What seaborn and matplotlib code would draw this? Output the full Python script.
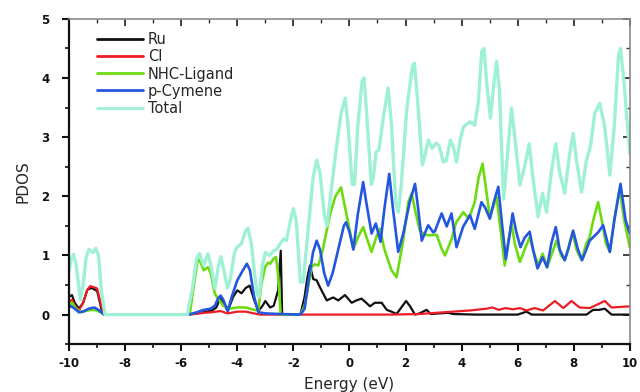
import matplotlib
matplotlib.use("Agg")
import matplotlib.pyplot as plt
import seaborn as sns
import pandas as pd
from matplotlib.ticker import MultipleLocator

# ---------------- data ----------------
series_names = ["Ru", "Cl", "NHC-Ligand", "p-Cymene", "Total"]

ru_e = [-10.0, -9.9, -9.8, -9.65, -9.5, -9.35, -9.2, -9.0, -8.85, -8.75, -5.76, -5.3, -4.9, -4.75,
        -4.62, -4.5, -4.34, -4.15, -4.0, -3.85, -3.7, -3.56, -3.4, -3.25, -3.1, -3.0, -2.83, -2.7,
        -2.55, -2.45, -2.4, -1.75, -1.6, -1.5, -1.41, -1.29, -1.17, -1.05, -0.81, -0.58, -0.4,
        -0.16, 0.08, 0.25, 0.43, 0.6, 0.73, 0.91, 1.15, 1.33, 1.5, 1.68, 1.85, 2.02, 2.15, 2.34,
        2.5, 2.75, 2.9, 3.2, 3.52, 3.7, 4.5, 6.0, 6.32, 6.5, 8.46, 8.69, 8.9, 9.11, 9.35, 10.0]
ru_v = [0.3, 0.33, 0.2, 0.1, 0.2, 0.42, 0.45, 0.4, 0.1, 0.0, 0.0, 0.03, 0.07, 0.12,
        0.27, 0.2, 0.06, 0.3, 0.41, 0.36, 0.45, 0.49, 0.25, 0.06, 0.15, 0.23, 0.12, 0.15,
        0.4, 1.08, 0.0, 0.0, 0.3, 0.63, 0.83, 0.6, 0.58, 0.46, 0.24, 0.29, 0.24,
        0.33, 0.2, 0.24, 0.27, 0.2, 0.14, 0.2, 0.2, 0.08, 0.05, 0.01, 0.12, 0.23, 0.15, 0.0,
        0.02, 0.08, 0.01, 0.02, 0.03, 0.01, 0.0, 0.0, 0.05, 0.0, 0.0, 0.08, 0.08, 0.1, 0.0, 0.0]

cl_e = [-10.0, -9.9, -9.8, -9.65, -9.5, -9.35, -9.25, -9.1, -9.0, -8.85, -8.75, -5.7, -5.2, -4.9,
        -4.6, -4.35, -4.0, -3.7, -3.4, -3.2, 1.5, 2.5, 3.1, 3.7, 4.3, 4.89, 5.1, 5.33, 5.56,
        5.84, 6.08, 6.32, 6.6, 6.91, 7.33, 7.63, 7.92, 8.21, 8.57, 9.11, 9.35, 10.0]
cl_v = [0.22, 0.25, 0.15, 0.07, 0.2, 0.42, 0.48, 0.46, 0.44, 0.15, 0.0, 0.0, 0.03, 0.04,
        0.06, 0.02, 0.05, 0.05, 0.02, 0.0, 0.0, 0.01, 0.03, 0.05, 0.07, 0.1, 0.12, 0.08, 0.11,
        0.09, 0.11, 0.07, 0.11, 0.07, 0.23, 0.11, 0.23, 0.12, 0.11, 0.23, 0.12, 0.14]

nhc_e = [-10.0, -9.9, -9.75, -9.6, -9.45, -9.2, -9.0, -8.85, -8.75, -5.7, -5.55, -5.42, -5.35,
         -5.2, -5.05, -4.95, -4.8, -4.65, -4.5, -4.3, -4.0, -3.7, -3.4, -3.25, -3.15, -3.01,
         -2.9, -2.83, -2.7, -2.62, -2.55, -2.45, -1.75, -1.6, -1.5, -1.35, -1.25, -1.11, -0.95,
         -0.7, -0.5, -0.3, -0.15, 0.14, 0.3, 0.49, 0.65, 0.79, 0.95, 1.09, 1.25, 1.5, 1.68,
         1.9, 2.1, 2.22, 2.35, 2.51, 2.7, 2.87, 3.11, 3.3, 3.41, 3.64, 3.8, 3.94, 4.06, 4.2,
         4.3, 4.47, 4.6, 4.75, 4.85, 5.01, 5.15, 5.25, 5.4, 5.54, 5.65, 5.78, 5.9, 6.08, 6.25,
         6.43, 6.55, 6.73, 6.89, 7.05, 7.2, 7.39, 7.55, 7.68, 7.8, 7.96, 8.1, 8.28, 8.45, 8.57,
         8.7, 8.87, 9.0, 9.15, 9.29, 9.45, 9.64, 9.8, 10.0]
nhc_v = [0.18, 0.2, 0.1, 0.04, 0.06, 0.08, 0.07, 0.03, 0.0, 0.0, 0.5, 0.9, 0.93,
         0.75, 0.8, 0.7, 0.35, 0.25, 0.15, 0.1, 0.12, 0.12, 0.08, 0.07, 0.5, 0.8,
         0.88, 0.86, 0.95, 0.97, 0.7, 0.0, 0.0, 0.15, 0.4, 0.8, 0.85, 0.83, 1.1,
         1.68, 2.0, 2.15, 1.8, 1.11, 1.3, 1.48, 1.25, 1.06, 1.3, 1.45, 1.1, 0.75, 0.63,
         1.2, 1.9, 2.05, 1.75, 1.42, 1.35, 1.34, 1.35, 1.1, 1.0, 1.27, 1.55, 1.65, 1.73, 1.65,
         1.68, 1.9, 2.3, 2.55, 2.2, 1.65, 1.85, 1.99, 1.4, 0.83, 1.2, 1.54, 1.2, 0.89, 1.1,
         1.31, 1.1, 0.83, 1.03, 0.8, 1.0, 1.25, 1.0, 0.92, 1.1, 1.39, 1.1, 0.92, 1.2, 1.31,
         1.6, 1.9, 1.6, 1.2, 1.06, 1.6, 2.13, 1.6, 1.14]

cym_e = [-10.0, -9.95, -9.8, -9.65, -9.5, -9.3, -9.1, -8.95, -8.75, -5.76, -5.5, -5.2, -4.95,
         -4.8, -4.68, -4.59, -4.5, -4.34, -4.2, -4.0, -3.8, -3.66, -3.55, -3.4, -3.25, -3.0,
         -2.5, -1.75, -1.6, -1.45, -1.3, -1.17, -1.05, -0.9, -0.76, -0.6, -0.4, -0.2, -0.12,
         0.0, 0.14, 0.3, 0.49, 0.6, 0.79, 0.94, 1.11, 1.25, 1.42, 1.55, 1.74, 1.92, 2.15, 2.34,
         2.45, 2.58, 2.81, 2.99, 3.05, 3.29, 3.47, 3.64, 3.82, 4.06, 4.3, 4.47, 4.71, 4.85,
         5.01, 5.15, 5.31, 5.45, 5.58, 5.7, 5.82, 5.95, 6.1, 6.25, 6.43, 6.55, 6.71, 6.89,
         7.05, 7.2, 7.36, 7.5, 7.68, 7.8, 7.98, 8.15, 8.3, 8.45, 8.57, 8.87, 9.05, 9.29, 9.45,
         9.67, 9.85, 10.0]
cym_v = [0.12, 0.15, 0.1, 0.04, 0.05, 0.1, 0.12, 0.08, 0.0, 0.0, 0.03, 0.08, 0.1,
         0.15, 0.28, 0.32, 0.25, 0.06, 0.3, 0.58, 0.75, 0.86, 0.75, 0.3, 0.04, 0.02,
         0.01, 0.0, 0.1, 0.6, 1.05, 1.25, 1.1, 0.7, 0.49, 0.7, 1.1, 1.5, 1.56,
         1.4, 1.1, 1.7, 2.24, 1.9, 1.37, 1.54, 1.23, 1.8, 2.38, 1.8, 1.06, 1.37, 1.9, 2.21,
         1.8, 1.25, 1.51, 1.39, 1.41, 1.71, 1.49, 1.71, 1.14, 1.49, 1.68, 1.45, 1.9, 1.8,
         1.62, 1.9, 2.16, 1.5, 0.94, 1.3, 1.71, 1.4, 1.14, 1.3, 1.4, 1.1, 0.78, 0.97,
         0.8, 1.2, 1.48, 1.1, 0.92, 1.1, 1.42, 1.1, 0.92, 1.1, 1.25, 1.39, 1.51, 1.06, 1.6,
         2.21, 1.6, 1.37]

tot_e = [-10.0, -9.92, -9.85, -9.75, -9.6, -9.5, -9.4, -9.3, -9.2, -9.15, -9.05, -8.95, -8.85,
         -8.72, -5.78, -5.6, -5.45, -5.35, -5.2, -5.05, -4.95, -4.8, -4.68, -4.59, -4.5, -4.35,
         -4.25, -4.1, -4.0, -3.85, -3.7, -3.62, -3.5, -3.3, -3.22, -3.1, -3.0, -2.85, -2.7,
         -2.6, -2.47, -2.35, -2.25, -2.1, -2.0, -1.9, -1.75, -1.65, -1.5, -1.3, -1.17, -1.05,
         -0.9, -0.8, -0.65, -0.5, -0.3, -0.15, -0.05, 0.1, 0.18, 0.3, 0.45, 0.52, 0.6, 0.78,
         0.85, 0.95, 1.05, 1.2, 1.38, 1.5, 1.65, 1.74, 1.85, 2.05, 2.25, 2.32, 2.45, 2.6, 2.7,
         2.81, 2.95, 3.1, 3.2, 3.35, 3.45, 3.6, 3.7, 3.82, 3.95, 4.06, 4.3, 4.47, 4.6, 4.72,
         4.8, 4.9, 5.03, 5.15, 5.25, 5.35, 5.5, 5.6, 5.78, 5.9, 6.08, 6.25, 6.41, 6.55, 6.73,
         6.89, 7.03, 7.2, 7.36, 7.5, 7.68, 7.85, 7.98, 8.1, 8.28, 8.45, 8.6, 8.75, 8.93, 9.1,
         9.29, 9.45, 9.6, 9.67, 9.8, 10.0]
tot_v = [0.75, 0.95, 1.02, 0.85, 0.25, 0.5, 0.95, 1.1, 1.07, 1.05, 1.12, 1.0, 0.4,
         0.0, 0.0, 0.45, 0.95, 1.03, 0.83, 1.03, 0.85, 0.44, 0.8, 0.98, 0.8, 0.45,
         0.6, 1.05, 1.14, 1.2, 1.42, 1.46, 1.2, 0.35, 0.3, 0.85, 1.05, 1.0, 1.08,
         1.1, 1.2, 1.28, 1.25, 1.6, 1.79, 1.6, 0.55, 0.55, 1.3, 2.3, 2.61, 2.4,
         1.7, 1.5, 2.1, 2.7, 3.4, 3.66, 3.2, 2.2, 2.2, 3.2, 3.95, 4.0, 3.5, 2.2,
         2.3, 2.75, 2.78, 3.3, 3.83, 3.2, 1.9, 1.73, 2.2, 3.5, 4.2, 4.25, 3.5, 2.53, 2.7,
         2.95, 2.81, 2.9, 2.85, 2.58, 2.6, 2.95, 2.85, 2.58, 2.95, 3.17, 3.26, 3.2, 3.6, 4.45,
         4.5, 3.9, 3.32, 3.9, 4.28, 3.8, 1.95, 2.5, 3.49, 3.0, 2.19, 2.5, 2.89, 2.3, 1.65,
         2.05, 1.73, 2.4, 2.89, 2.4, 2.05, 2.7, 3.06, 2.6, 2.07, 2.6, 2.85, 3.4, 3.57, 3.2,
         2.36, 3.2, 4.4, 4.5, 3.9, 2.72]

x_ticks = [-10, -8, -6, -4, -2, 0, 2, 4, 6, 8, 10]
y_ticks = [0, 1, 2, 3, 4, 5]

# ---------------- plotting ----------------
sns.set_theme(style="white")
plt.rcParams["font.family"] = ["DejaVu Sans"]
plt.rcParams["axes.unicode_minus"] = False

fig = plt.figure(figsize=(6.4, 3.92), dpi=100)
ax = fig.add_axes([0.108, 0.122, 0.876, 0.830])

series = [
    ("Ru", ru_e, ru_v, "#111111", 1.6),
    ("Cl", cl_e, cl_v, "#ee1c24", 1.6),
    ("NHC-Ligand", nhc_e, nhc_v, "#6cdb10", 1.9),
    ("p-Cymene", cym_e, cym_v, "#2457e0", 1.9),
    ("Total", tot_e, tot_v, "#9ff1d6", 2.4),
]
for name, e, v, col, lw in series:
    df = pd.DataFrame({"Energy": e, "PDOS": v})
    sns.lineplot(data=df, x="Energy", y="PDOS", ax=ax, color=col, lw=lw,
                 label=name, estimator=None, sort=False)

ax.set_xlim(-10, 10)
ax.set_ylim(-0.5, 5)
ax.set_xticks(x_ticks)
ax.set_yticks(y_ticks)
ax.xaxis.set_minor_locator(MultipleLocator(1))
ax.yaxis.set_minor_locator(MultipleLocator(0.5))
ax.tick_params(axis="both", which="major", direction="out", length=5, width=1.5,
               labelsize=8.5, colors="#111111", left=True, bottom=True)
ax.tick_params(axis="y", which="major", pad=9)
ax.tick_params(axis="x", which="major", pad=4)
ax.tick_params(axis="both", which="minor", direction="out", length=3, width=1.2,
               left=True, bottom=True, colors="#111111")
for lab in ax.get_xticklabels() + ax.get_yticklabels():
    lab.set_fontweight("bold")

ax.set_xlabel("Energy (eV)", fontsize=11, labelpad=5)
ax.set_ylabel("PDOS", fontsize=11, labelpad=8)

for s in ["left", "bottom"]:
    ax.spines[s].set_color("#111111")
    ax.spines[s].set_linewidth(1.6)
for s in ["top", "right"]:
    ax.spines[s].set_color("#8a8a8a")
    ax.spines[s].set_linewidth(1.2)

# mirrored inward ticks on top and right
top = ax.secondary_xaxis("top")
top.set_xticks(x_ticks)
top.xaxis.set_minor_locator(MultipleLocator(1))
top.tick_params(which="major", direction="in", length=5, width=1.3, labeltop=False, colors="#333333")
top.tick_params(which="minor", direction="in", length=3, width=1.0, colors="#333333")
top.spines["top"].set_visible(False)
right = ax.secondary_yaxis("right")
right.set_yticks(y_ticks)
right.yaxis.set_minor_locator(MultipleLocator(0.5))
right.tick_params(which="major", direction="in", length=5, width=1.3, labelright=False, colors="#333333")
right.tick_params(which="minor", direction="in", length=3, width=1.0, colors="#333333")
right.spines["right"].set_visible(False)

leg = ax.legend(loc="upper left", bbox_to_anchor=(0.035, 0.985), frameon=False,
                fontsize=10.5, handlelength=3.1, handletextpad=0.35, labelspacing=0.14,
                borderaxespad=0.2)
for line in leg.get_lines():
    line.set_linewidth(2.0)

fig.savefig("out.png", dpi=100)
